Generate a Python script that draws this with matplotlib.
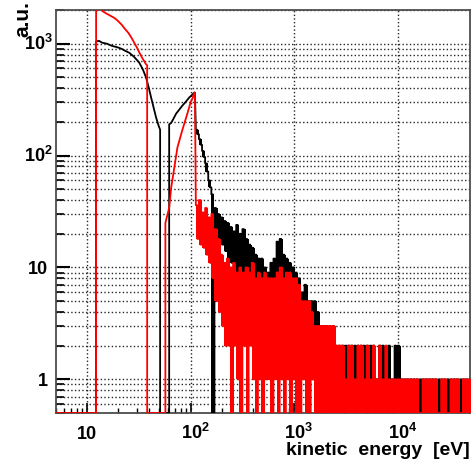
import numpy as np
import matplotlib.pyplot as plt
from matplotlib import transforms
from matplotlib.ticker import LogLocator, NullFormatter

plt.rcParams['font.family'] = ['Liberation Sans', 'DejaVu Sans']
plt.rcParams['font.weight'] = 'bold'
plt.rcParams['mathtext.fontset'] = 'custom'
plt.rcParams['mathtext.rm'] = 'Liberation Sans:bold'
plt.rcParams['mathtext.it'] = 'Liberation Sans:bold'
plt.rcParams['mathtext.bf'] = 'Liberation Sans:bold'
plt.rcParams['path.simplify'] = False  # keep every histogram bin

# axis ranges and ticks
x_min, x_max = 5, 5e4
y_min, y_max = 0.5, 2000
x_ticks = [10, 100, 1000, 10000]
x_tick_labels = ['10', r'$10^{2}$', r'$10^{3}$', r'$10^{4}$']
y_ticks = [1, 10, 100, 1000]
y_tick_labels = ['1', '10', r'$10^{2}$', r'$10^{3}$']

# low energy peak (smooth part), energy [eV] and counts
black_e1 = [12.2, 13.0, 14.0, 15.5, 17.4, 19.5, 21.5, 23.5, 25.5, 28.5, 31.8,
            34.5, 37.1, 39.5, 41.5, 44.0, 46.4, 49.0, 50.7]
black_v1 = [1045, 1060, 1020, 1000, 955, 930, 900, 860, 830, 760, 679,
            590, 498, 400, 330, 265, 218, 185, 170]
red_e1 = [12.2, 13.2, 14.1, 15.5, 16.9, 18.3, 19.8, 21.5, 23.1, 25.0, 26.8,
          28.5, 30.3, 32.0, 33.9, 35.5, 36.8, 38.0]
red_v1 = [2150, 2200, 1950, 1850, 1770, 1700, 1600, 1480, 1360, 1250, 1130,
          1020, 920, 830, 750, 700, 660, 640]

# second peak near 100 eV
black_e2 = [62.0, 64.9, 68.5, 72.4, 77.0, 82.8, 89.0, 96.8, 102, 108, 110]
black_v2 = [190, 196, 215, 237, 255, 278, 300, 330, 345, 365, 365]
red_e2 = [57.0, 62.0, 64.9, 69.5, 74.5, 82.8, 93.0, 100, 105, 108, 110]
red_v2 = [25, 34, 52, 78, 118, 167, 238, 300, 330, 365, 365]

# noisy tail: log binned histogram, upper / lower count inside each bin
tail_log_start, tail_log_width, n_tail = 2.05, 0.03, 89

red_hi = [36, 40, 31, 34, 28, 30, 22, 18, 13, 11,
          12, 10, 11, 9, 10, 9, 10, 9, 11, 8,
          9, 8, 9, 8, 8, 8, 9, 10, 8, 9,
          9, 8, 8, 7, 5, 5, 5, 4, 3, 3,
          3, 3, 3, 3, 3, 2, 2, 2, 1, 2,
          2, 1, 2, 2, 1, 2, 1, 2, 1, 2,
          1, 2, 1, 1, 1, 1, 1, 1, 1, 1,
          1, 1, 0, 1, 1, 1, 1, 1, 0, 1,
          1, 0, 1, 1, 1, 0, 1, 1, 1]
red_lo = [18, 16, 15, 13, 11, 8, 5, 4, 3, 2,
          2, 0, 2, 1, 0, 2, 0, 2, 1, 0,
          1, 0, 1, 1, 0, 1, 0, 1, 0, 1,
          0, 1, 0, 0, 1, 0, 0, 1, 0, 0] + [0] * 49
black_hi = [170, 140, 110, 85, 60, 45, 34, 30, 28, 26,
            25, 23, 21, 24, 20, 22, 18, 16, 15, 13,
            12, 12, 10, 9, 11, 12, 17, 18, 13, 12,
            11, 10, 9, 8, 6, 7, 5, 5, 5, 4,
            3, 3, 3, 2, 3, 2, 2, 2, 2, 2,
            2, 2, 2, 2, 2, 2, 2, 2, 1, 2,
            2, 1, 2, 1, 2, 2, 1, 1, 1, 1,
            1, 1, 1, 1, 1, 1, 1, 1, 1, 1,
            1, 1, 1, 1, 1, 1, 1, 1, 1]
black_lo = [155, 125, 97, 72, 52, 0, 22, 18, 16, 14,
            12, 11, 10, 9, 8, 6, 5, 4, 4, 3,
            3, 3, 3, 3, 3, 3, 3, 3, 3, 3,
            2, 2, 2, 2, 2, 2, 2, 1, 1, 1] + [1] * 20 + [0] * 29

tail_edges = 10 ** (tail_log_start + tail_log_width * np.arange(n_tail + 1))


def floor(v):
    # empty bins sit on the bottom of the frame
    v = np.asarray(v, dtype=float)
    return np.where(v > 0, v, y_min)


def spectrum(e1, v1, e2, v2, hi, lo):
    mid = np.sqrt(tail_edges[:-1] * tail_edges[1:])
    tx = np.column_stack([tail_edges[:-1], mid, mid, tail_edges[1:]]).ravel()
    ty = np.column_stack([hi, hi, lo, lo]).ravel()
    xs = np.concatenate([[x_min, e1[0]], e1, [e1[-1], e2[0]], e2, tx])
    ys = np.concatenate([[0, 0], v1, [0, 0], v2, ty])
    return xs, floor(ys)


fig = plt.figure(figsize=(4.71, 4.62), dpi=100)
ax = fig.add_axes([56 / 471, 49 / 462, 414 / 471, 403 / 462])

for e1, v1, e2, v2, hi, lo, col, z in [
        (black_e1, black_v1, black_e2, black_v2, black_hi, black_lo, 'black', 3),
        (red_e1, red_v1, red_e2, red_v2, red_hi, red_lo, 'red', 3.2)]:
    xs, ys = spectrum(e1, v1, e2, v2, hi, lo)
    ax.plot(xs, ys, color=col, lw=1.3, zorder=z)
    # dense bins: the spread inside each bin reads as a solid band
    ax.fill_between(tail_edges, floor(list(lo) + [lo[-1]]), floor(list(hi) + [hi[-1]]),
                    step='post', color=col, lw=0, zorder=z - 0.1)

ax.set_xscale('log')
ax.set_yscale('log')
ax.set_xlim(x_min, x_max)
ax.set_ylim(y_min, y_max)

ax.set_xticks(x_ticks)
ax.xaxis.set_minor_locator(LogLocator(base=10, subs=np.arange(2, 10), numticks=20))
ax.xaxis.set_minor_formatter(NullFormatter())
ax.set_yticks(y_ticks)
ax.yaxis.set_minor_locator(LogLocator(base=10, subs=np.arange(2, 10), numticks=20))
ax.yaxis.set_minor_formatter(NullFormatter())
ax.tick_params(axis='x', which='major', direction='in', length=7, width=1.2, labelbottom=False)
ax.tick_params(axis='x', which='minor', direction='in', length=3.5, width=1.0)
ax.tick_params(axis='y', which='major', direction='in', length=10, width=1.5, labelleft=False)
ax.tick_params(axis='y', which='minor', direction='in', length=5.5, width=1.2)

# ROOT style labels: the "10" sits on the tick, the exponent hangs to the right
for v, lab in zip(y_ticks, y_tick_labels):
    dx = -3 if '^' in lab else -8
    tr = transforms.offset_copy(ax.get_yaxis_transform(), fig=fig, x=dx, y=-6.5, units='dots')
    ax.text(0, v, lab, transform=tr, ha='right', va='baseline', fontsize=13)
for v, lab in zip(x_ticks, x_tick_labels):
    tr = transforms.offset_copy(ax.get_xaxis_transform(), fig=fig, x=-10, y=-26, units='dots')
    ax.text(v, 0, lab, transform=tr, ha='left', va='baseline', fontsize=13)

ax.yaxis.grid(True, which='both', linestyle=':', color='0.15', lw=1.0)
ax.xaxis.grid(True, which='major', linestyle=':', color='0.15', lw=1.0)

for sp in ax.spines.values():
    sp.set_color('0.3')
    sp.set_linewidth(1.3)

fig.text(0.048, 0.997, 'a.u.', rotation=90, ha='center', va='top', fontsize=15)
fig.text(470 / 471, 7 / 462, 'kinetic  energy  [eV]', ha='right', va='baseline', fontsize=14)

fig.savefig('out.png', dpi=100)
